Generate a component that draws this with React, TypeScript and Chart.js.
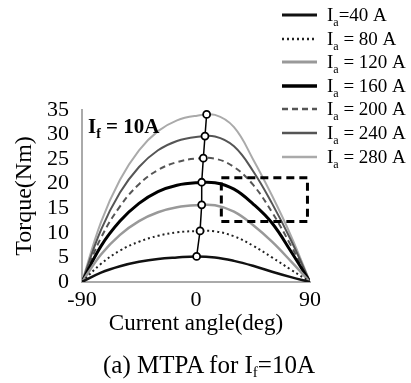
import React, { useEffect, useRef } from "react";
import { Chart, registerables } from "chart.js";
Chart.register(...registerables);

// Current angle (deg)
const angles = [-90, -75, -60, -45, -30, -15, 0, 15, 30, 45, 60, 75, 90];
// Torque (Nm) per armature current
const torque40 = [0, 1.9, 3.2, 4.1, 4.7, 5.0, 5.2, 5.0, 4.3, 3.3, 2.1, 1.0, 0];
const torque80 = [0, 3.7, 6.4, 8.2, 9.4, 10.1, 10.35, 10.3, 9.3, 7.4, 5.0, 2.5, 0];
const torque120 = [0, 5.6, 9.6, 12.4, 14.2, 15.2, 15.6, 15.6, 14.3, 11.6, 8.2, 4.2, 0];
const torque160 = [0, 7.3, 12.4, 16.0, 18.4, 19.7, 20.2, 20.2, 18.9, 15.9, 12.0, 6.2, 0];
const torque200 = [0, 9.0, 15.4, 19.9, 22.8, 24.4, 25.1, 25.1, 23.4, 19.8, 14.2, 7.4, 0];
const torque240 = [0, 10.6, 18.2, 23.4, 26.8, 28.7, 29.5, 29.6, 27.6, 22.6, 16.0, 8.5, 0];
const torque280 = [0, 12.2, 20.8, 26.8, 30.7, 32.9, 33.8, 34.0, 31.5, 25.0, 17.6, 9.4, 0];

// MTPA points
const mtpaAngles = [0.5, 3.2, 4.5, 4.5, 5.8, 7.1, 8.4];
const mtpaTorque = [5.2, 10.4, 15.7, 20.3, 25.2, 29.7, 34.1];

// dashed zoom box
const boxAngles = [20, 88, 88, 20, 20];
const boxTorque = [21.2, 21.2, 12.3, 12.3, 21.2];

const legendLabels = ["=40 A", " = 80 A", " = 120 A", " = 160 A", " = 200 A", " = 240 A", " = 280 A"];
const currents = [40, 80, 120, 160, 200, 240, 280];
const xTicks = [-90, 0, 90];

const FONT = "'Liberation Serif', 'Times New Roman', serif";

type Style = { color: string; width: number; dash: number[] };
const styles: Style[] = [
  { color: "#111", width: 2.5, dash: [] },
  { color: "#222", width: 2, dash: [2, 3] },
  { color: "#999", width: 2.5, dash: [] },
  { color: "#000", width: 3, dash: [] },
  { color: "#555", width: 2, dash: [6, 4] },
  { color: "#555", width: 2, dash: [] },
  { color: "#aaa", width: 2, dash: [] },
];

const series = [torque40, torque80, torque120, torque160, torque200, torque240, torque280];

function drawSub(ctx: CanvasRenderingContext2D, x: number, y: number, main: string, sub: string, rest: string, size: number, bold = false) {
  const w = bold ? "bold " : "";
  ctx.font = `${w}${size}px ${FONT}`;
  ctx.fillText(main, x, y);
  let cx = x + ctx.measureText(main).width;
  ctx.font = `${w}${Math.round(size * 0.65)}px ${FONT}`;
  ctx.fillText(sub, cx, y + size * 0.25);
  cx += ctx.measureText(sub).width;
  ctx.font = `${w}${size}px ${FONT}`;
  ctx.fillText(rest, cx, y);
}

const textPlugin = {
  id: "texts",
  afterDraw(chart: any) {
    const ctx = chart.ctx as CanvasRenderingContext2D;
    ctx.save();
    ctx.fillStyle = "#000";
    ctx.textBaseline = "alphabetic";
    ctx.textAlign = "left";
    drawSub(ctx, 88, 133, "I", "f", " = 10A", 21, true);
    const rowY = [15, 39, 62, 86, 109, 133, 157];
    styles.forEach((s, i) => {
      const y = rowY[i];
      ctx.beginPath();
      ctx.strokeStyle = s.color;
      ctx.lineWidth = i === 3 ? 3.5 : s.width + 0.5;
      ctx.setLineDash(s.dash);
      ctx.moveTo(282, y);
      ctx.lineTo(317, y);
      ctx.stroke();
      ctx.setLineDash([]);
      ctx.fillStyle = "#000";
      drawSub(ctx, 327, y + 6, "I", "a", legendLabels[i], 19);
    });
    ctx.restore();
  },
};

export default function App() {
  const ref = useRef<HTMLCanvasElement>(null);
  useEffect(() => {
    if (!ref.current) return;
    const datasets: any[] = [
      {
        label: "MTPA",
        data: mtpaAngles.map((a, i) => ({ x: a, y: mtpaTorque[i] })),
        borderColor: "#000",
        borderWidth: 1.5,
        pointRadius: 3.5,
        pointBackgroundColor: "#fff",
        pointBorderColor: "#000",
        pointBorderWidth: 1.8,
        tension: 0,
        order: 0,
      },
      {
        label: "box",
        data: boxAngles.map((a, i) => ({ x: a, y: boxTorque[i] })),
        borderColor: "#000",
        borderWidth: 3,
        borderDash: [8, 5],
        pointRadius: 0,
        tension: 0,
        order: 0,
      },
    ];
    series.forEach((vals, k) => {
      datasets.push({
        label: `Ia=${currents[k]} A`,
        data: angles.map((a, i) => ({ x: a, y: vals[i] })),
        borderColor: styles[k].color,
        borderWidth: styles[k].width,
        borderDash: styles[k].dash,
        pointRadius: 0,
        tension: 0.4,
        order: 1,
      });
    });
    const chart = new Chart(ref.current, {
      type: "line",
      data: { datasets },
      plugins: [textPlugin],
      options: {
        animation: false,
        responsive: false,
        devicePixelRatio: 1,
        layout: { padding: { left: 0, right: 101, top: 110, bottom: 41 } },
        plugins: { legend: { display: false }, tooltip: { enabled: false } },
        scales: {
          x: {
            type: "linear",
            min: -90,
            max: 90,
            afterBuildTicks: (s: any) => {
              s.ticks = xTicks.map((v) => ({ value: v }));
            },
            afterFit: (s: any) => {
              s.height = 60;
            },
            grid: { display: false, drawTicks: false },
            border: { display: true, color: "#aaa", width: 2 },
            ticks: { color: "#000", padding: 5, font: { family: FONT, size: 22 }, maxRotation: 0, autoSkip: false },
            title: { display: true, text: "Current angle(deg)", color: "#000", font: { family: FONT, size: 23 }, padding: { top: 0, bottom: 4 } },
          },
          y: {
            min: 0,
            max: 35,
            afterFit: (s: any) => {
              s.width = 82;
            },
            grid: { display: false, drawTicks: false },
            border: { display: true, color: "#aaa", width: 2 },
            ticks: { color: "#000", stepSize: 5, autoSkip: false, padding: 13, font: { family: FONT, size: 22 } },
            title: { display: true, text: "Torque(Nm)", color: "#000", font: { family: FONT, size: 24 }, padding: { top: 10, bottom: 0 } },
          },
        },
      },
    });
    return () => chart.destroy();
  }, []);
  return (
    <div style={{ position: "absolute", left: 0, top: 0, width: 411, height: 383, background: "#fff" }}>
      <canvas ref={ref} width={411} height={383} style={{ display: "block" }} />
      <div
        style={{
          position: "absolute",
          left: 0,
          width: 418,
          top: 350,
          textAlign: "center",
          fontFamily: FONT,
          fontSize: 25,
          lineHeight: "30px",
          color: "#000",
        }}
      >
        (a) MTPA for I<sub style={{ fontSize: 15, verticalAlign: "-4px" }}>f</sub>=10A
      </div>
    </div>
  );
}
